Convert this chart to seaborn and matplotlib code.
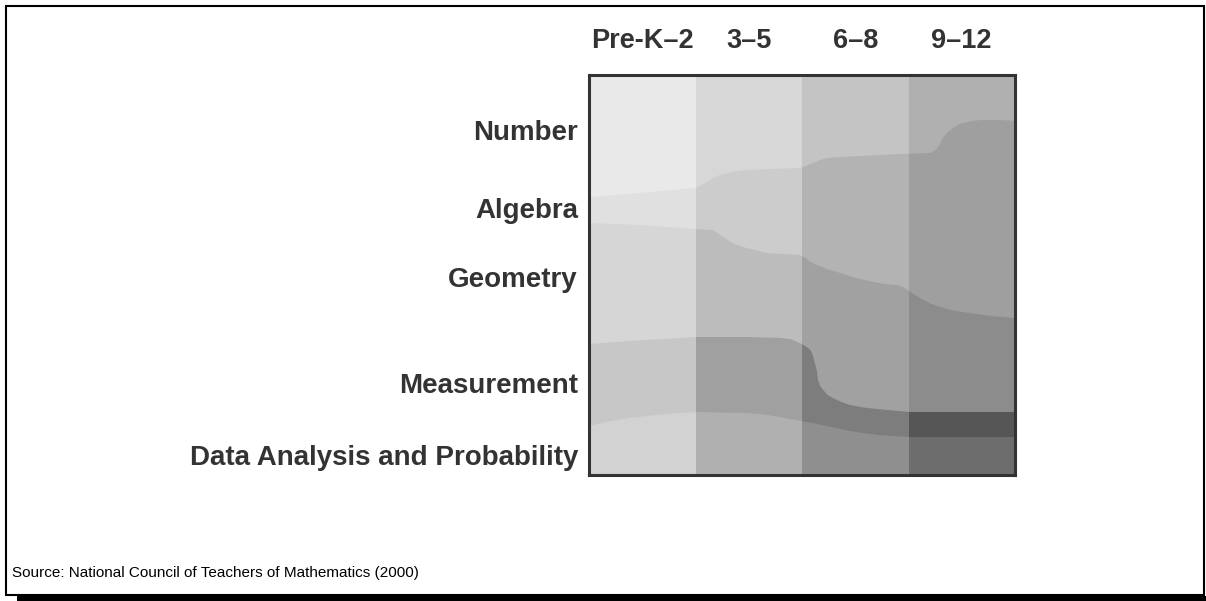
import matplotlib
matplotlib.use("Agg")
import numpy as np
import matplotlib.pyplot as plt
from matplotlib.patches import Rectangle
import seaborn as sns

# --- datos ---
grades = ["Pre-K\u20132", "3\u20135", "6\u20138", "9\u201312"]
strands = ["Number", "Algebra", "Geometry", "Measurement",
           "Data Analysis and Probability"]
label_pos = [13.75, 33.25, 50.5, 77.0, 95.0]

# fronteras entre estrandas: x en unidades de grado (0..4), y en % desde arriba
num_alg_x = [0.00, 0.48, 1.00, 1.04, 1.11, 1.16, 1.23, 1.35, 1.48, 1.70,
             1.98, 2.01, 2.06, 2.10, 2.17, 2.23, 2.36, 2.54, 2.92, 3.20,
             3.24, 3.27, 3.30, 3.32, 3.37, 3.42, 3.48, 3.55, 3.62, 3.70,
             3.86, 4.00]
num_alg_y = [30.5, 29.5, 28.25, 27.75, 26.75, 25.75, 25.0, 24.25, 23.75, 23.5,
             23.25, 23.0, 22.5, 22.0, 21.25, 20.75, 20.5, 20.25, 19.75, 19.5,
             19.0, 18.25, 17.0, 15.75, 14.25, 13.25, 12.25, 11.75, 11.4, 11.25,
             11.25, 11.5]

alg_geo_x = [0.00, 0.48, 1.00, 1.16, 1.21, 1.26, 1.35, 1.42, 1.48, 1.67,
             1.98, 2.03, 2.08, 2.14, 2.24, 2.36, 2.51, 2.67, 2.78, 2.89,
             2.95, 2.99, 3.06, 3.14, 3.21, 3.30, 3.39, 3.51, 3.77, 4.00]
alg_geo_y = [37.0, 37.5, 38.5, 38.75, 39.5, 40.5, 42.0, 42.75, 43.25, 44.5,
             45.0, 45.75, 46.75, 47.5, 48.6, 49.5, 50.75, 51.75, 52.25, 52.5,
             53.0, 53.75, 55.0, 56.25, 57.2, 58.0, 58.7, 59.25, 60.25, 60.75]

geo_mea_x = [0.00, 0.38, 1.00, 1.50, 1.79, 1.89, 1.98, 2.04, 2.08, 2.10,
             2.12, 2.14, 2.15, 2.17, 2.20, 2.24, 2.29, 2.37, 2.45, 2.57,
             2.70, 3.01, 4.00]
geo_mea_y = [67.25, 66.5, 65.5, 65.5, 65.75, 66.0, 67.0, 67.9, 68.75, 70.0,
             72.0, 74.0, 76.25, 77.75, 78.75, 80.0, 80.75, 81.75, 82.5, 83.1,
             83.5, 84.25, 84.25]

mea_dat_x = [0.00, 0.19, 0.38, 0.69, 1.00, 1.48, 1.65, 1.79, 1.95, 2.10,
             2.27, 2.45, 2.60, 2.73, 3.00, 4.00]
mea_dat_y = [87.75, 86.6, 85.75, 84.8, 84.25, 84.5, 84.9, 85.5, 86.3, 87.0,
             88.0, 89.0, 89.6, 90.0, 90.5, 90.5]

# tonos de gris por estranda y por nivel
number_colors = ["#e9e9e9", "#d7d7d7", "#c4c4c4", "#b0b0b0"]
algebra_colors = ["#e0e0e0", "#cccccc", "#b3b3b3", "#9f9f9f"]
geometry_colors = ["#d6d6d6", "#bcbcbc", "#a1a1a1", "#8c8c8c"]
measurement_colors = ["#c7c7c7", "#a0a0a0", "#7d7d7d", "#565656"]
data_colors = ["#d2d2d2", "#b0b0b0", "#8f8f8f", "#6d6d6d"]

sns.set_theme(style="white")
plt.rcParams['font.family'] = ['Liberation Sans', 'DejaVu Sans']

fig = plt.figure(figsize=(12.06, 6.01), dpi=100)
ax = fig.add_axes([589 / 1206, 1 - 475 / 601, 426 / 1206, 400 / 601])

# cada banda se pinta desde su frontera superior hasta abajo, en orden
uppers = [([0, 4], [0, 0]),
          (num_alg_x, num_alg_y),
          (alg_geo_x, alg_geo_y),
          (geo_mea_x, geo_mea_y),
          (mea_dat_x, mea_dat_y)]
band_colors = [number_colors, algebra_colors, geometry_colors,
               measurement_colors, data_colors]

for (ux, uy), cols in zip(uppers, band_colors):
    xs = [0] + list(ux) + [4]
    ys = [100] + list(uy) + [100]
    for j, c in enumerate(cols):
        poly = ax.fill(xs, ys, color=c, lw=0, antialiased=True)[0]
        poly.set_clip_path(Rectangle((j, 0), 1, 100, transform=ax.transData))

ax.set_xlim(0, 4)
ax.set_ylim(100, 0)

ax.xaxis.tick_top()
ax.set_xticks([0.5, 1.5, 2.5, 3.5])
ax.set_xticklabels(grades, fontsize=19.5, fontweight='bold', color='#333333')
ax.set_yticks(label_pos)
ax.set_yticklabels(strands, fontsize=20, fontweight='bold', color='#333333')
ax.tick_params(axis='x', length=0, pad=15)
ax.tick_params(axis='y', length=0, pad=8)
ax.grid(False)

for s in ax.spines.values():
    s.set_visible(True)
    s.set_color('#333333')
    s.set_linewidth(2.2)

# marco de la figura con sombra
fig.patches.append(Rectangle((6 / 1206, 1 - 595 / 601), 1198 / 1206, 589 / 601,
                             transform=fig.transFigure, fill=False,
                             ec='black', lw=1.5))
fig.patches.append(Rectangle((17 / 1206, 0), 1189 / 1206, 5 / 601,
                             transform=fig.transFigure, fc='black', lw=0))

fig.text(12 / 1206, 1 - 573 / 601,
         "Source: National Council of Teachers of Mathematics (2000)",
         ha='left', va='center', fontsize=11, color='black')

fig.savefig("out.png", dpi=100)
